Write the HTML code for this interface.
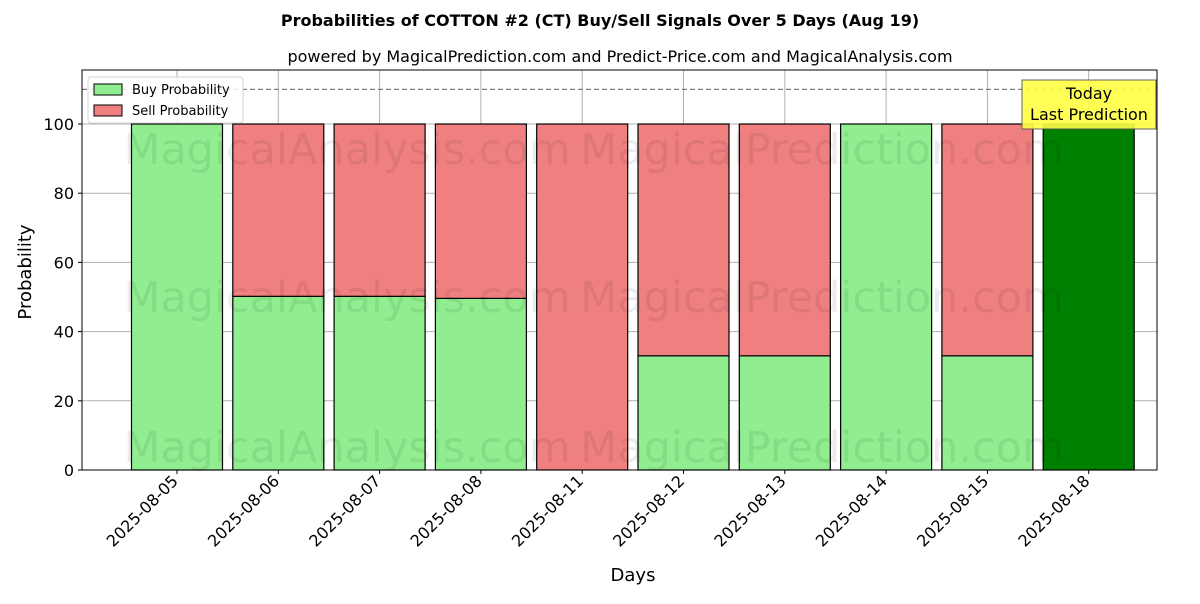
<!DOCTYPE html>
<html><head><meta charset="utf-8"><style>
body{margin:0;background:#fff;font-family:"DejaVu Sans","Liberation Sans",sans-serif}
</style></head><body>
<svg id="c" width="1200" height="600" xmlns="http://www.w3.org/2000/svg" font-family="DejaVu Sans, Liberation Sans, sans-serif"></svg>
<script>
const categories=["2025-08-05","2025-08-06","2025-08-07","2025-08-08","2025-08-11","2025-08-12","2025-08-13","2025-08-14","2025-08-15","2025-08-18"];
const buyValues=[100,50.2,50.2,49.6,0,33,33,100,33,100];
const sellValues=[0,49.8,49.8,50.4,100,67,67,0,67,0];
const yTicks=[0,20,40,60,80,100];
const svg=document.getElementById('c');
const NS='http://www.w3.org/2000/svg';
const L=82,R=1157,T=70,B=470;
const x=i=>177+i*101.3;
const y=v=>B-v*3.46;
const bw=91;
function el(t,a,txt,name,par){const e=document.createElementNS(NS,t);for(const k in a)e.setAttribute(k,a[k]);if(txt!=null)e.textContent=txt;


(par||svg).appendChild(e);return e;}
el('text',{x:600,y:26,'text-anchor':'middle','font-size':16,'font-weight':'bold'},'Probabilities of COTTON #2 (CT) Buy/Sell Signals Over 5 Days (Aug 19)','chart-title');
el('text',{x:620,y:62,'text-anchor':'middle','font-size':16},'powered by MagicalPrediction.com and Predict-Price.com and MagicalAnalysis.com','chart-subtitle');
categories.forEach((c,i)=>{el('line',{x1:x(i),x2:x(i),y1:T,y2:B,stroke:'#b0b0b0','stroke-width':1},null,'x-grid-line');});
yTicks.forEach(v=>{el('line',{x1:L,x2:R,y1:y(v),y2:y(v),stroke:'#b0b0b0','stroke-width':1},null,'y-grid-line');});
categories.forEach((c,i)=>{
 const last=i===categories.length-1;
 if(buyValues[i]>0)el('rect',{x:x(i)-bw/2,y:y(buyValues[i]),width:bw,height:y(0)-y(buyValues[i]),fill:last?'#008000':'#90ee90',stroke:'#000','stroke-width':1.2},null,'buy-bar-'+c);
 if(sellValues[i]>0)el('rect',{x:x(i)-bw/2,y:y(buyValues[i]+sellValues[i]),width:bw,height:y(buyValues[i])-y(buyValues[i]+sellValues[i]),fill:'#f08080',stroke:'#000','stroke-width':1.2},null,'sell-bar-'+c);
});
[150,298,448].forEach((yy)=>{
 el('text',{x:347,y:yy+14,'text-anchor':'middle','font-size':43,fill:'#000',opacity:0.07},'MagicalAnalysis.com','watermark');
 el('text',{x:822,y:yy+14,'text-anchor':'middle','font-size':43,fill:'#000',opacity:0.07},'MagicalPrediction.com','watermark');
});
el('line',{x1:L,x2:R,y1:y(110),y2:y(110),stroke:'#808080','stroke-width':1.2,'stroke-dasharray':'5,3'},null,'threshold-line');
el('rect',{x:L,y:T,width:R-L,height:B-T,fill:'none',stroke:'#000','stroke-width':1},null,'plot-frame');
yTicks.forEach(v=>{el('line',{x1:L-4,x2:L,y1:y(v),y2:y(v),stroke:'#000'},null,'y-tick');
 el('text',{x:L-8,y:y(v)+6,'text-anchor':'end','font-size':16},String(v),'y-tick-label');});
categories.forEach((c,i)=>{el('line',{x1:x(i),x2:x(i),y1:B,y2:B+4,stroke:'#000'},null,'x-tick');
 const ax=x(i)+2, ay=B+12;
 el('text',{x:ax,y:ay,'text-anchor':'end','font-size':16,transform:`rotate(-45 ${ax} ${ay})`},c,'x-tick-label');});
el('text',{x:633,y:581,'text-anchor':'middle','font-size':18},'Days','x-axis-title');
el('text',{x:31,y:272,'text-anchor':'middle','font-size':18,transform:'rotate(-90 31 272)'},'Probability','y-axis-title');
const g=el('g',{},null,'legend');
el('rect',{x:88,y:77,width:155,height:46,fill:'#fff',stroke:'#d0d0d0',rx:3,opacity:0.85},null,'legend-box',g);
el('rect',{x:94,y:84,width:28,height:11,fill:'#90ee90',stroke:'#000'},null,'legend-buy-swatch',g);
el('text',{x:132,y:94,'font-size':13},'Buy Probability','legend-buy-label',g);
el('rect',{x:94,y:105,width:28,height:11,fill:'#f08080',stroke:'#000'},null,'legend-sell-swatch',g);
el('text',{x:132,y:115,'font-size':13},'Sell Probability','legend-sell-label',g);
el('rect',{x:1022,y:80,width:134,height:49,fill:'#ffff44',stroke:'#555','stroke-width':1,opacity:0.9},null,'today-box');
el('text',{x:1089,y:99,'text-anchor':'middle','font-size':16},'Today','today-label');
el('text',{x:1089,y:120,'text-anchor':'middle','font-size':16},'Last Prediction','last-prediction-label');
</script>
</body></html>
